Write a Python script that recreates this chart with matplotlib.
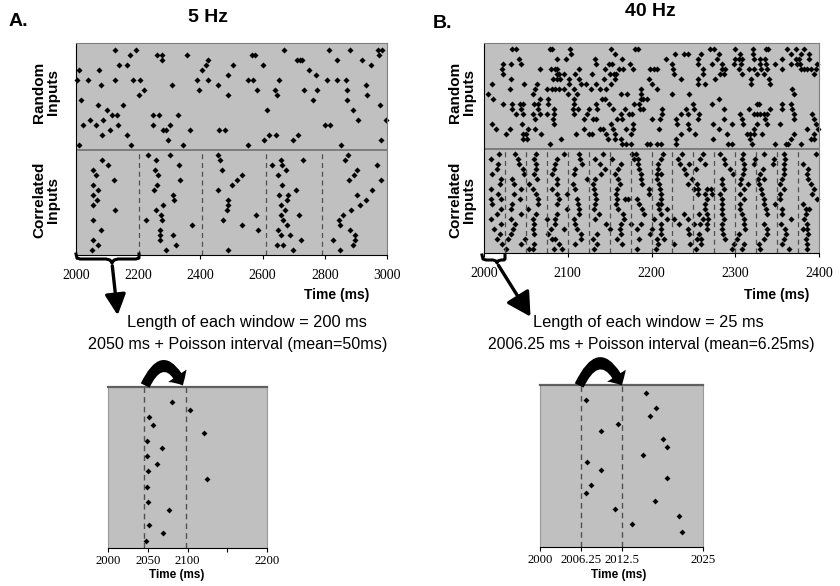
import matplotlib
matplotlib.use("Agg")
import matplotlib.pyplot as plt
from matplotlib.patches import FancyArrowPatch

# spike times (ms), one list per input, listed from the top row down
a_random = [
    [2125, 2192, 2669, 2814, 2881, 2970, 2985],
    [2174, 2259, 2278, 2358, 2565, 2576, 2974],
    [2276, 2426, 2710, 2720, 2726, 2838, 2921],
    [2139, 2165, 2417, 2504, 2600, 2948],
    [2011, 2074, 2406, 2749],
    [2490, 2771],
    [2002, 2040, 2125, 2182, 2206, 2388, 2426, 2554, 2570, 2654, 2806, 2838, 2867],
    [2080, 2308, 2456, 2932],
    [2220, 2396, 2583, 2640, 2733, 2774, 2870],
    [2204, 2490, 2645, 2937],
    [2015, 2763, 2870],
    [2072, 2152, 2976],
    [2101, 2615, 2890],
    [2115, 2131, 2249, 2268, 2329],
    [2045, 2088, 2908, 2996],
    [2024, 2064, 2136, 2249, 2302, 2801, 2817],
    [2109, 2281, 2289, 2367, 2461, 2479],
    [2083, 2165, 2621, 2642, 2715],
    [2297, 2605, 2699, 2980],
    [2011, 2176, 2343, 2554, 2851],
]
a_correlated = [
    [2233, 2302, 2455, 2874],
    [2085, 2256, 2463, 2658, 2729, 2865],
    [2104, 2331, 2629, 2661, 2967],
    [2056, 2254, 2468, 2674, 2903],
    [2063, 2265, 2535, 2649, 2895],
    [2123, 2334, 2517, 2878, 2981],
    [2054, 2262, 2503, 2661],
    [2072, 2252, 2456, 2708, 2953],
    [2054, 2313, 2654, 2681, 2903],
    [2066, 2316, 2490, 2680, 2933],
    [2054, 2281, 2490, 2659, 2913],
    [2125, 2256, 2485, 2672, 2883],
    [2273, 2578, 2659, 2718, 2860],
    [2054, 2224, 2276, 2474, 2667, 2846],
    [2372, 2533, 2680, 2849],
    [2080, 2270, 2586, 2651, 2881],
    [2270, 2313, 2659, 2688, 2897],
    [2056, 2270, 2723, 2825, 2897],
    [2072, 2321, 2647, 2667, 2890],
    [2050, 2289, 2490, 2699, 2849],
]
a_windows = [2204, 2406, 2610, 2790]
a_ticks = [2000, 2200, 2400, 2600, 2800, 3000]

b_random = [
    [2034, 2038, 2079, 2081, 2103, 2152, 2180, 2184, 2270, 2275, 2300, 2321, 2337, 2339, 2362, 2373, 2382],
    [2104, 2157, 2228, 2239, 2243, 2259, 2280, 2306, 2321, 2366, 2378, 2388],
    [2042, 2087, 2098, 2133, 2165, 2217, 2255, 2278, 2300, 2304, 2308, 2322, 2330, 2336, 2356, 2372, 2376, 2388],
    [2023, 2032, 2044, 2134, 2149, 2153, 2174, 2224, 2255, 2272, 2284, 2298, 2307, 2330, 2337, 2348, 2366, 2374, 2377, 2398],
    [2022, 2067, 2080, 2085, 2087, 2114, 2145, 2161, 2166, 2178, 2198, 2203, 2207, 2226, 2262, 2284, 2288, 2304, 2316, 2322, 2331, 2338, 2356, 2378, 2382, 2386, 2390, 2396],
    [2023, 2087, 2089, 2096, 2109, 2129, 2151, 2155, 2158, 2227, 2262, 2282, 2286, 2308, 2326, 2334, 2394],
    [2032, 2082, 2087, 2091, 2101, 2113, 2143, 2157, 2197, 2235, 2255, 2276, 2319, 2340],
    [2010, 2048, 2063, 2102, 2116, 2122, 2134, 2152, 2200, 2256, 2264, 2319, 2342],
    [2031, 2061, 2075, 2081, 2085, 2089, 2095, 2108, 2128, 2139, 2146, 2188, 2207, 2368],
    [2005, 2058, 2100, 2111, 2164, 2171, 2188, 2224, 2245, 2370],
    [2011, 2067, 2077, 2107, 2141, 2144, 2188, 2190, 2195, 2280],
    [2023, 2033, 2043, 2046, 2060, 2064, 2077, 2107, 2134, 2149, 2179, 2185, 2249, 2272, 2326, 2328, 2356, 2366],
    [2034, 2044, 2065, 2083, 2106, 2112, 2125, 2135, 2154, 2168, 2186, 2190, 2212, 2241, 2251, 2286, 2316, 2342, 2356, 2368],
    [2038, 2046, 2058, 2067, 2075, 2083, 2107, 2123, 2163, 2173, 2177, 2212, 2235, 2243, 2257, 2306, 2322, 2326, 2330, 2334, 2338, 2370, 2392],
    [2061, 2082, 2119, 2130, 2134, 2159, 2165, 2201, 2210, 2229, 2255, 2286, 2308, 2336, 2370, 2394],
    [2010, 2045, 2083, 2152, 2178, 2231, 2243, 2274, 2296, 2309, 2326, 2338, 2354, 2396],
    [2014, 2031, 2052, 2061, 2119, 2138, 2142, 2154, 2169, 2178, 2209, 2245, 2280, 2322, 2386, 2399],
    [2026, 2046, 2050, 2068, 2110, 2125, 2129, 2146, 2157, 2176, 2235, 2252, 2290, 2314, 2318, 2322, 2332, 2370, 2394],
    [2046, 2051, 2092, 2148, 2157, 2163, 2229, 2274, 2318, 2366, 2391, 2394],
    [2079, 2165, 2170, 2176, 2195, 2198, 2206, 2211, 2229, 2291, 2296, 2320, 2348, 2360, 2363, 2378],
]
b_correlated = [
    [2018, 2037, 2062, 2095, 2114, 2142, 2177, 2181, 2214, 2236, 2262, 2282, 2309, 2334, 2358, 2396],
    [2008, 2040, 2060, 2087, 2115, 2133, 2153, 2179, 2184, 2211, 2232, 2258, 2286, 2308, 2323, 2346, 2359],
    [2017, 2042, 2062, 2085, 2117, 2139, 2163, 2184, 2208, 2234, 2245, 2264, 2288, 2311, 2322, 2345, 2358, 2381],
    [2015, 2046, 2062, 2083, 2109, 2145, 2160, 2185, 2208, 2239, 2253, 2294, 2310, 2333, 2358, 2387],
    [2010, 2048, 2060, 2081, 2108, 2140, 2157, 2187, 2207, 2211, 2241, 2297, 2309, 2330, 2358, 2386],
    [2020, 2034, 2063, 2087, 2123, 2133, 2160, 2188, 2207, 2248, 2284, 2307, 2327, 2334, 2356, 2387],
    [2019, 2036, 2054, 2087, 2106, 2130, 2162, 2189, 2209, 2243, 2254, 2284, 2306, 2315, 2328, 2354, 2390],
    [2008, 2044, 2058, 2081, 2109, 2131, 2159, 2197, 2210, 2251, 2255, 2266, 2271, 2286, 2311, 2331, 2358, 2394],
    [2017, 2036, 2062, 2087, 2099, 2132, 2158, 2197, 2211, 2256, 2264, 2272, 2282, 2306, 2332, 2354, 2392],
    [2008, 2020, 2043, 2064, 2089, 2111, 2134, 2159, 2168, 2172, 2183, 2211, 2266, 2284, 2310, 2334, 2354, 2398],
    [2010, 2034, 2064, 2087, 2112, 2133, 2158, 2185, 2208, 2211, 2264, 2284, 2306, 2334, 2348, 2381],
    [2020, 2032, 2052, 2099, 2114, 2131, 2160, 2189, 2209, 2219, 2264, 2284, 2306, 2337, 2356, 2384, 2388],
    [2016, 2044, 2062, 2087, 2114, 2137, 2166, 2191, 2211, 2239, 2257, 2266, 2284, 2308, 2338, 2356, 2384],
    [2008, 2032, 2059, 2075, 2085, 2107, 2133, 2167, 2203, 2219, 2227, 2243, 2261, 2267, 2286, 2310, 2366, 2382],
    [2020, 2037, 2060, 2085, 2109, 2146, 2164, 2176, 2187, 2211, 2233, 2251, 2258, 2266, 2284, 2310, 2334, 2355, 2386],
    [2012, 2035, 2058, 2080, 2095, 2111, 2150, 2162, 2183, 2201, 2211, 2243, 2266, 2284, 2312, 2338, 2359, 2381, 2386],
    [2019, 2032, 2060, 2077, 2116, 2135, 2163, 2198, 2211, 2245, 2257, 2285, 2304, 2338, 2361, 2387],
    [2015, 2029, 2049, 2081, 2085, 2116, 2130, 2159, 2185, 2207, 2215, 2254, 2259, 2288, 2302, 2334, 2358, 2384],
    [2022, 2044, 2060, 2089, 2109, 2135, 2165, 2208, 2227, 2246, 2259, 2298, 2310, 2328, 2356, 2386],
    [2026, 2054, 2058, 2083, 2093, 2131, 2183, 2205, 2253, 2296, 2308, 2330, 2364, 2386],
]
b_windows = [2025, 2050, 2075, 2100, 2125, 2150, 2175, 2200, 2225, 2250, 2275, 2300, 2325, 2350, 2375]
b_ticks = [2000, 2100, 2200, 2300, 2400]

# first window of each panel, enlarged (top row down, 20 inputs)
a_zoom = [[], [2081], [2103], [2052], [2057], [2121], [2049], [2068], [2049], [2062],
          [2050], [2125], [2049], [], [2050], [2077], [], [2051], [2069], [2048]]
a_zoom_lines = [2045, 2098]
a_zoom_ticks = [2000, 2050, 2100, 2150, 2200]
a_zoom_labels = ["2000", "2050", "2100", "", "2200"]

b_zoom = [[2016.2], [2007.1], [2017.8], [2016.9], [2012.0], [2009.3], [2018.9], [2019.4],
          [2015.8], [2007.2], [2009.3], [2019.5], [2007.8], [2007.0], [2017.6], [2011.5],
          [2021.3], [2014.1], [2021.8], []]
b_zoom_lines = [2006.25, 2012.5]
b_zoom_ticks = [2000, 2006.25, 2012.5, 2025]
b_zoom_labels = ["2000", "2006.25", "2012.5", "2025"]

SANS = "Liberation Sans"
SERIF = "Liberation Serif"
GREY = "#c0c0c0"

fig = plt.figure(figsize=(8.4, 5.86), dpi=100)
W, H = 840.0, 586.0


def box(x0, y0, x1, y1):
    return [x0 / W, 1 - y1 / H, (x1 - x0) / W, (y1 - y0) / H]


def raster(ax, rows, top, ms):
    xs, ys = [], []
    for i, times in enumerate(rows):
        xs += times
        ys += [top - i] * len(times)
    ax.plot(xs, ys, "D", color="black", ms=ms, mew=0, ls="none", clip_on=False)


def main_panel(rect, random_rows, corr_rows, windows, ticks, xmax):
    ax = fig.add_axes(rect)
    ax.set_facecolor(GREY)
    raster(ax, random_rows, 41, 3.1)
    raster(ax, corr_rows, 20, 3.1)
    ax.axhline(21, color="#707070", lw=1.2)
    ax.vlines(windows, 0, 21, colors="#505050", linestyles=(0, (4, 3)), lw=0.9)
    ax.set_xlim(2000, xmax)
    ax.set_ylim(0, 42.3)
    ax.set_yticks([])
    ax.set_xticks(ticks)
    ax.tick_params(axis="x", length=3, pad=7, labelsize=10)
    for t in ax.get_xticklabels():
        t.set_fontfamily(SERIF)
    for s in ["top", "right"]:
        ax.spines[s].set_color("#808080")
    ax.spines["left"].set_color("black")
    ax.spines["bottom"].set_color("black")
    return ax


def zoom_panel(rect, rows, lines, xlim, ticks, labels):
    ax = fig.add_axes(rect)
    ax.set_facecolor(GREY)
    raster(ax, rows, 20, 3.0)
    ax.axvline(lines[0], color="#505050", ls=(0, (4, 3)), lw=1)
    ax.axvline(lines[1], color="#505050", ls=(0, (4, 3)), lw=1)
    ax.set_xlim(*xlim)
    ax.set_ylim(0, 21)
    ax.set_yticks([])
    ax.set_xticks(ticks)
    ax.set_xticklabels(labels, fontfamily=SERIF, fontsize=9.2)
    ax.tick_params(axis="x", length=3, pad=2)
    ax.spines["top"].set_color("#606060")
    ax.spines["top"].set_linewidth(1.6)
    for s in ["left", "right"]:
        ax.spines[s].set_color("#9a9a9a")
    return ax


main_panel(box(76, 43, 387, 255), a_random, a_correlated, a_windows, a_ticks, 3000)
main_panel(box(484, 43, 819, 253.5), b_random, b_correlated, b_windows, b_ticks, 2400)
zoom_panel(box(108.3, 386.7, 266.7, 548.3), a_zoom, a_zoom_lines, (2000, 2200),
           a_zoom_ticks, a_zoom_labels)
zoom_panel(box(540, 385, 703.3, 547.3), b_zoom, b_zoom_lines, (2000, 2025),
           b_zoom_ticks, b_zoom_labels)

# overlay in pixel units for labels, braces and arrows
ov = fig.add_axes([0, 0, 1, 1], zorder=10)
ov.set_xlim(0, W)
ov.set_ylim(H, 0)
ov.axis("off")

bold = dict(fontfamily=SANS, fontweight="bold", ha="center", va="center")
ov.text(18, 21, "A.", fontsize=14, **bold)
ov.text(208, 17, "5 Hz", fontsize=14, **bold)
ov.text(442, 23, "B.", fontsize=14, **bold)
ov.text(650, 12, "40 Hz", fontsize=14, **bold)

for x in (46, 462):
    ov.text(x, 92, "Random\nInputs", rotation=90, fontsize=11, linespacing=1.0, **bold)
    ov.text(x, 200, "Correlated\nInputs", rotation=90, fontsize=11, linespacing=1.0, **bold)

ov.text(337, 295, "Time (ms)", fontsize=10, **bold)
ov.text(777, 295, "Time (ms)", fontsize=10, **bold)
ov.text(177, 575, "Time (ms)", fontsize=8.5, **bold)
ov.text(619, 575, "Time (ms)", fontsize=8.5, **bold)

plain = dict(fontfamily=SANS, ha="center", va="center")
ov.text(247, 323, "Length of each window = 200 ms", fontsize=11.8, **plain)
ov.text(238, 345, "2050 ms + Poisson interval (mean=50ms)", fontsize=11.6, **plain)
ov.text(648, 323, "Length of each window = 25 ms", fontsize=11.8, **plain)
ov.text(651, 345, "2006.25 ms + Poisson interval (mean=6.25ms)", fontsize=11.3, **plain)

# braces under the first window
ov.plot([76, 77, 80, 106, 110, 112, 114, 118, 136, 139, 139],
        [254, 258, 259, 259, 260, 263, 260, 259, 259, 258, 254],
        color="black", lw=2.2, solid_joinstyle="round")
ov.plot([482, 483, 486, 493, 496, 497, 498, 501, 504, 505, 505],
        [255, 259, 260, 260, 261, 263, 261, 260, 260, 259, 255],
        color="black", lw=2.2, solid_joinstyle="round")

ov.add_patch(FancyArrowPatch((112, 263), (118, 318), arrowstyle="-|>,head_length=0.9,head_width=0.45",
                             mutation_scale=14, lw=2.4, color="black"))
ov.add_patch(FancyArrowPatch((497, 263), (532, 319), arrowstyle="-|>,head_length=0.9,head_width=0.5",
                             mutation_scale=16, lw=2.4, color="black"))

# curved jump arrows above the enlarged windows
for x0, x1 in ((144, 184), (578, 623)):
    ov.add_patch(FancyArrowPatch((x0, 388), (x1, 388), connectionstyle="arc3,rad=-1.1",
                                 arrowstyle="simple,head_length=8,head_width=16,tail_width=7",
                                 mutation_scale=1, color="black", lw=0))

fig.savefig("out.png", dpi=100)
